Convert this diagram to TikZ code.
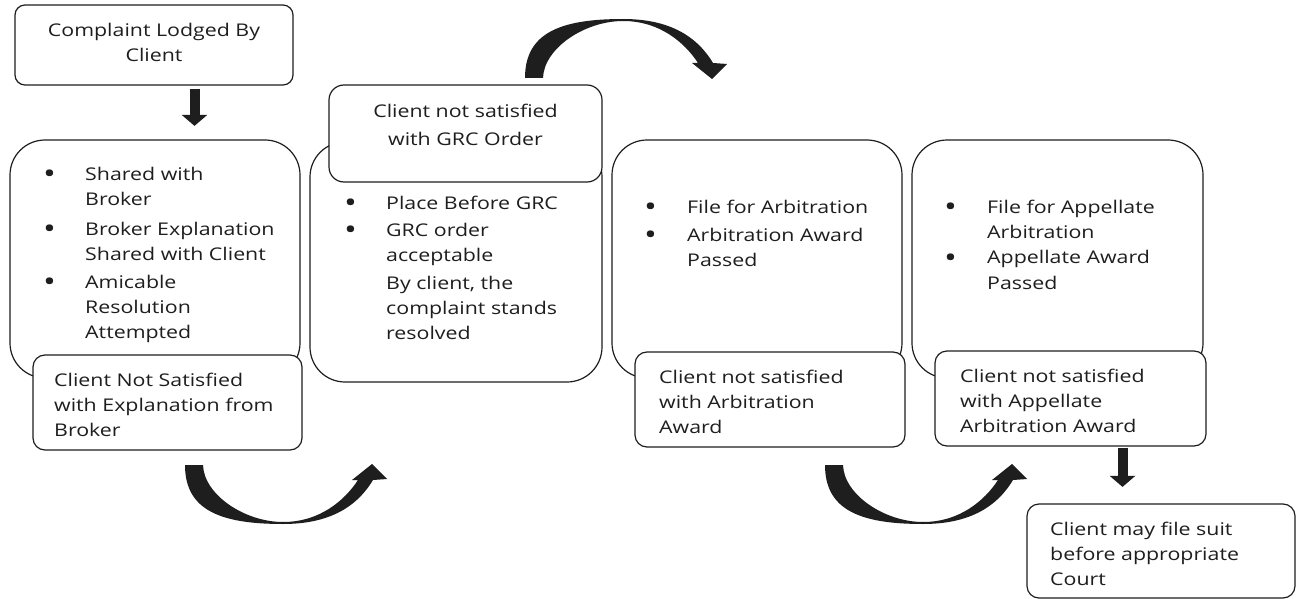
\documentclass[tikz,border=0pt]{standalone}
\usepackage{fontspec}
\setmainfont{Open Sans}[FakeStretch=1.22]
\usetikzlibrary{arrows.meta}
\definecolor{ink}{HTML}{1E1E1E}
\newcommand\bigbul{\raisebox{-3.2pt}{\scalebox{1.6}{\textbullet}}}
\begin{document}
\begin{tikzpicture}[x=1pt,y=-1pt,
  box/.style={draw=ink, line width=1.2pt, fill=white, rounded corners=#1, inner sep=0pt},
  box/.default=12pt,
  txt/.style={inner sep=0pt, anchor=base west, text=ink, font=\fontsize{17.5}{25}\selectfont},
  ctxt/.style={txt, anchor=base},
  down/.style={draw=ink, line width=10pt, -{Triangle[width=25pt,length=11pt]}},
  pics/swoosh/.style={code={
    \fill[ink] (0,0) -- (18,0) .. controls (19,30) and (60,57) .. (98,57)
      .. controls (135,57) and (160,35) .. (173,15) -- (167,15) -- (187,-1)
      -- (202,14) -- (188,15) .. controls (170,45) and (140,59) .. (98,59)
      .. controls (35,59) and (0,45) .. (0,0) -- cycle;}}]
\useasboundingbox (0,0) rectangle (1296,599);
\fill[white] (0,0) rectangle (1296,599);

% boxes
\node[box=10pt, minimum width=278pt, minimum height=80pt] (b1) at (154,45) {};
\node[box=35pt, minimum width=290pt, minimum height=238pt] (b2) at (155,259) {};
\node[box=12pt, minimum width=269pt, minimum height=95pt] (b2b) at (167.5,402.5) {};
\node[box=35pt, minimum width=292pt, minimum height=240pt] (b3) at (456,262) {};
\node[box=15pt, minimum width=273pt, minimum height=97pt] (b3t) at (465.5,133.5) {};
\node[box=35pt, minimum width=290pt, minimum height=238pt] (b4) at (757,259) {};
\node[box=12pt, minimum width=270pt, minimum height=95pt] (b4b) at (770,399.5) {};
\node[box=35pt, minimum width=291pt, minimum height=238pt] (b5) at (1057.5,259) {};
\node[box=12pt, minimum width=271pt, minimum height=95pt] (b5b) at (1070.5,398.5) {};
\node[box=12pt, minimum width=268pt, minimum height=94pt] (b6) at (1161,551) {};

% texts
\node[ctxt] (t1) at (154,37) {\begin{tabular}[t]{@{}c@{}}Complaint Lodged By\\Client\end{tabular}};
\node[txt] (t2) at (43,180) {\begin{tabular}[t]{@{}p{42pt}@{}l@{}}
  \bigbul & Shared with\\ & Broker\\[5pt]
  \bigbul & Broker Explanation\\ & Shared with Client\\[3pt]
  \bigbul & Amicable\\ & Resolution\\ & Attempted\end{tabular}};
\node[txt] (t2b) at (54,386) {\begin{tabular}[t]{@{}l@{}}Client Not Satisfied\\with Explanation from\\Broker\end{tabular}};
\node[ctxt] (t3t) at (465.5,118) {\begin{tabular}[t]{@{}c@{}}Client not satisfied\\[3pt]with GRC Order\end{tabular}};
\node[txt] (t3) at (344,209) {\begin{tabular}[t]{@{}p{42pt}@{}l@{}}
  \bigbul & Place Before GRC\\[2pt]
  \bigbul & GRC order\\ & acceptable\\[3pt]
  & By client, the\\ & complaint stands\\ & resolved\end{tabular}};
\node[txt] (t4) at (644,213) {\begin{tabular}[t]{@{}p{43pt}@{}l@{}}
  \bigbul & File for Arbitration\\[3pt]
  \bigbul & Arbitration Award\\ & Passed\end{tabular}};
\node[txt] (t4b) at (659,383) {\begin{tabular}[t]{@{}l@{}}Client not satisfied\\with Arbitration\\Award\end{tabular}};
\node[txt] (t5) at (944,213) {\begin{tabular}[t]{@{}p{43pt}@{}l@{}}
  \bigbul & File for Appellate\\ & Arbitration\\[1pt]
  \bigbul & Appellate Award\\ & Passed\end{tabular}};
\node[txt] (t5b) at (960,382) {\begin{tabular}[t]{@{}l@{}}Client not satisfied\\with Appellate\\Arbitration Award\end{tabular}};
\node[txt] (t6) at (1050,535) {\begin{tabular}[t]{@{}l@{}}Client may file suit\\before appropriate\\Court\end{tabular}};

% straight arrows
\coordinate (ax1) at (194.5,0);
\coordinate (ax2) at (1122.5,0);
\draw[down, shorten <=3pt, shorten >=13.5pt] (b1.south -| ax1) -- (b2.north -| ax1);
\draw[down, shorten <=1pt, shorten >=16.5pt] (b5b.south -| ax2) -- (b6.north -| ax2);

% curved arrows
\pic at (185,465) {swoosh};
\pic[yscale=-1] at (525,78) {swoosh};
\pic at (825,465) {swoosh};
\end{tikzpicture}
\end{document}
